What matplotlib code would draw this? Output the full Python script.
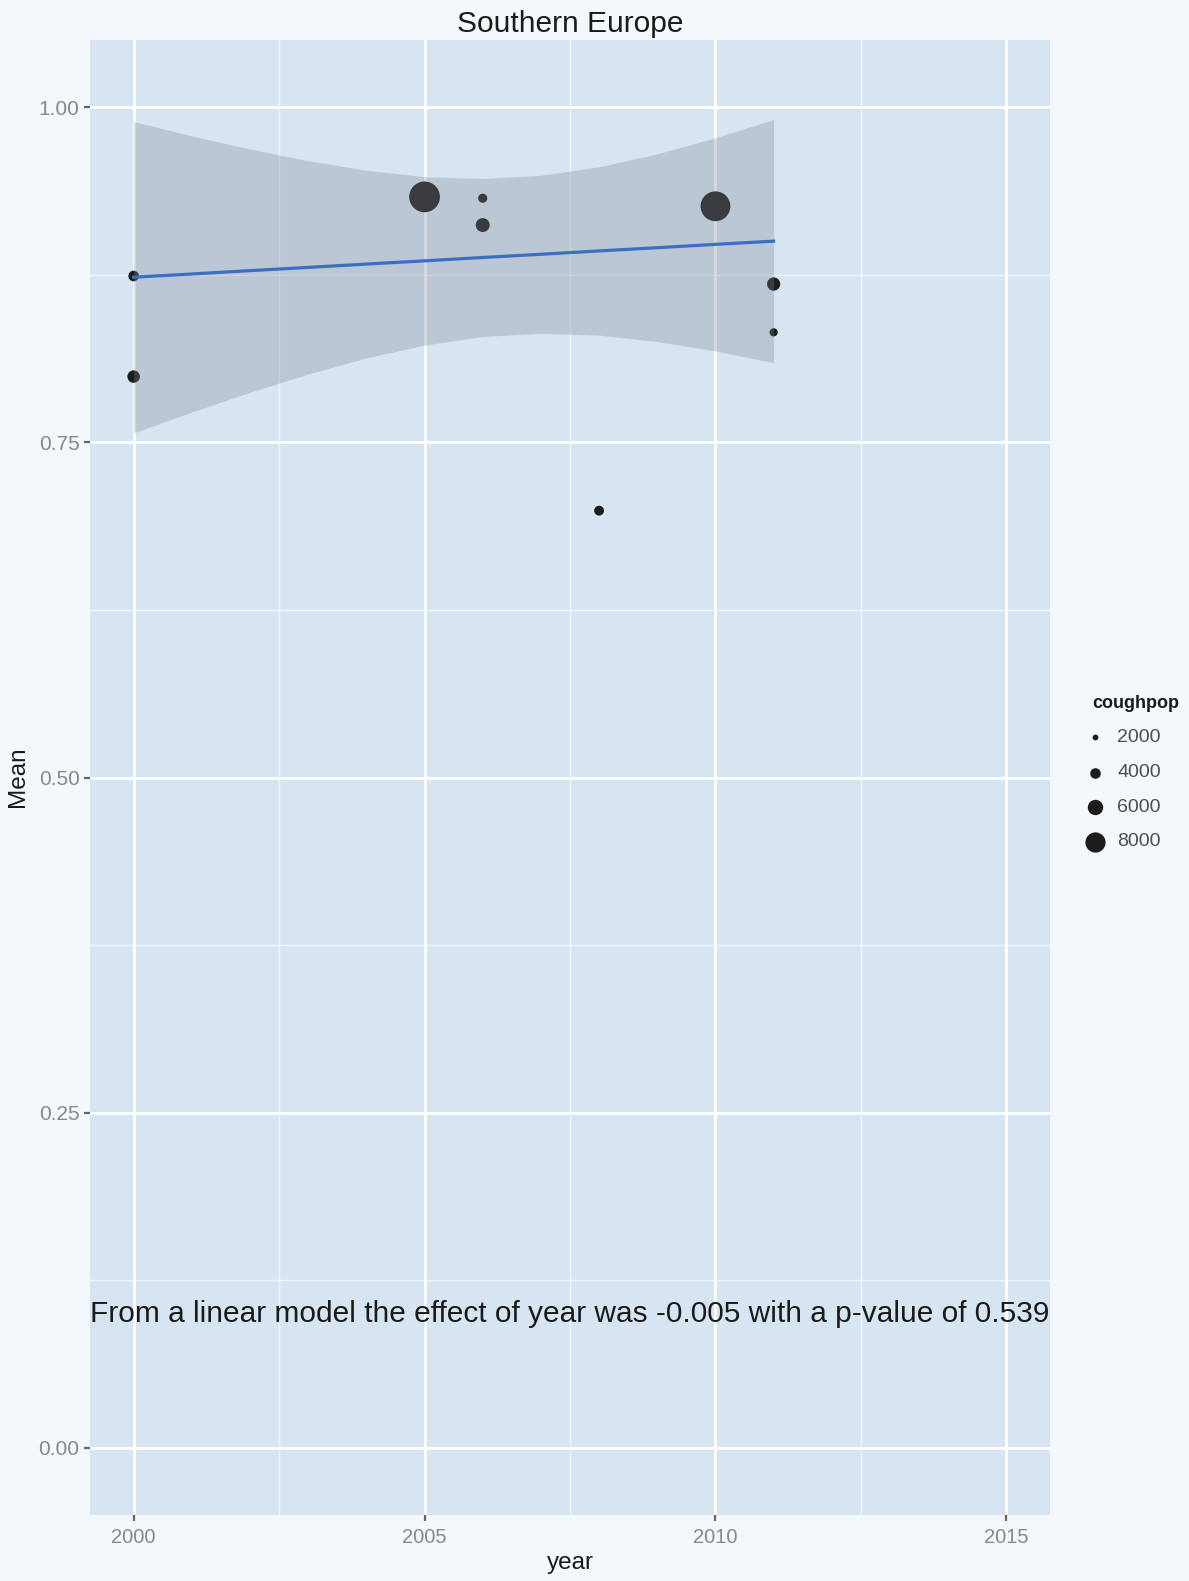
import matplotlib
matplotlib.use("Agg")
import matplotlib.pyplot as plt

plt.rcParams['font.family'] = ['Liberation Sans', 'DejaVu Sans']

# survey points
year = [2000, 2000, 2005, 2006, 2006, 2008, 2010, 2011, 2011]
mean_val = [0.874, 0.799, 0.933, 0.932, 0.912, 0.699, 0.926, 0.868, 0.832]
coughpop = [4000, 4800, 12400, 3400, 5400, 3700, 12000, 5100, 3000]

# smoother and its confidence band
fit_year = [2000, 2001, 2002, 2003, 2004, 2005, 2006, 2007, 2008, 2009, 2010, 2011]
fit_mean = [0.8731, 0.8755, 0.8780, 0.8804, 0.8829, 0.8853,
            0.8878, 0.8902, 0.8927, 0.8951, 0.8976, 0.9000]
fit_lo = [0.7570, 0.7725, 0.7873, 0.8009, 0.8129, 0.8225,
          0.8289, 0.8313, 0.8299, 0.8251, 0.8181, 0.8093]
fit_hi = [0.9892, 0.9785, 0.9687, 0.9599, 0.9529, 0.9481,
          0.9467, 0.9491, 0.9555, 0.9651, 0.9771, 0.9907]

legend_breaks = [2000, 4000, 6000, 8000]
x_ticks = [2000, 2005, 2010, 2015]
x_minor = [2002.5, 2007.5, 2012.5]
y_ticks = [0.00, 0.25, 0.50, 0.75, 1.00]
y_minor = [0.125, 0.375, 0.625, 0.875]
note = "From a linear model the effect of year was -0.005 with a p-value of 0.539"

W, H = 1189, 1581
DPI = 100


def marker_area(v):
    # diameter in px grows with coughpop, converted to points^2
    d_px = 5.8 + 2.4 * (v - 2000) / 1000.0
    return (d_px * 72.0 / DPI) ** 2


fig = plt.figure(figsize=(W / DPI, H / DPI), dpi=DPI, facecolor="#F2F8FC")

# panel: x 90..1050 px, y 40..1515 px
ax = fig.add_axes([90 / W, 1 - 1515 / H, 960 / W, 1475 / H])
ax.set_facecolor("#D7E5F2")
for s in ax.spines.values():
    s.set_visible(False)

ax.set_xlim(1999.25, 2015.75)
ax.set_ylim(-0.05, 1.05)
ax.set_xticks(x_ticks)
ax.set_xticks(x_minor, minor=True)
ax.set_yticks(y_ticks)
ax.set_yticks(y_minor, minor=True)
ax.set_yticklabels([f"{v:.2f}" for v in y_ticks])
ax.grid(True, which="major", color="white", linewidth=2.0, zorder=0)
ax.grid(True, which="minor", color="white", linewidth=1.0, alpha=0.6, zorder=0)
ax.set_axisbelow(True)
ax.tick_params(which="major", length=4.5, width=1.6, color="#666666",
               labelsize=15, labelcolor="#888888", pad=3)
ax.tick_params(axis="x", labelsize=14.5, pad=5)
ax.tick_params(which="minor", length=0)

ax.scatter(year, mean_val, s=[marker_area(v) for v in coughpop],
           color="#1C1C1C", linewidths=0, zorder=2)
ax.fill_between(fit_year, fit_lo, fit_hi, color="#7D8491", alpha=0.3,
                linewidth=0, zorder=3)
ax.plot(fit_year, fit_mean, color="#3B6FC2", linewidth=2.3, zorder=4)

ax.text(2007.5, 0.1, note, ha="center", va="center", fontsize=21.5,
        color="#1A1A1A", zorder=5)

# titles and axis labels
fig.text(570 / W, 1 - 24 / H, "Southern Europe", ha="center", va="center",
         fontsize=21.5, color="#1A1A1A")
fig.text(570 / W, 1 - 1563 / H, "year", ha="center", va="center",
         fontsize=17.5, color="#1A1A1A")
fig.text(18 / W, 1 - 777 / H, "Mean", ha="center", va="center",
         fontsize=17.5, rotation=90, color="#1A1A1A")

# size legend
lax = fig.add_axes([0, 0, 1, 1])
lax.set_xlim(0, W)
lax.set_ylim(H, 0)
lax.axis("off")
lax.text(1092, 704, "coughpop", ha="left", va="center", fontsize=13,
         fontweight="bold", color="#1A1A1A")
key_y = [737, 772.5, 807, 842]
for v, ky in zip(legend_breaks, key_y):
    lax.scatter([1095], [ky], s=marker_area(v), color="#1C1C1C", linewidths=0)
    lax.text(1117, ky, str(v), ha="left", va="center", fontsize=14,
             color="#4D4D4D")

fig.savefig("out.png", dpi=DPI, facecolor=fig.get_facecolor())
plt.close(fig)
